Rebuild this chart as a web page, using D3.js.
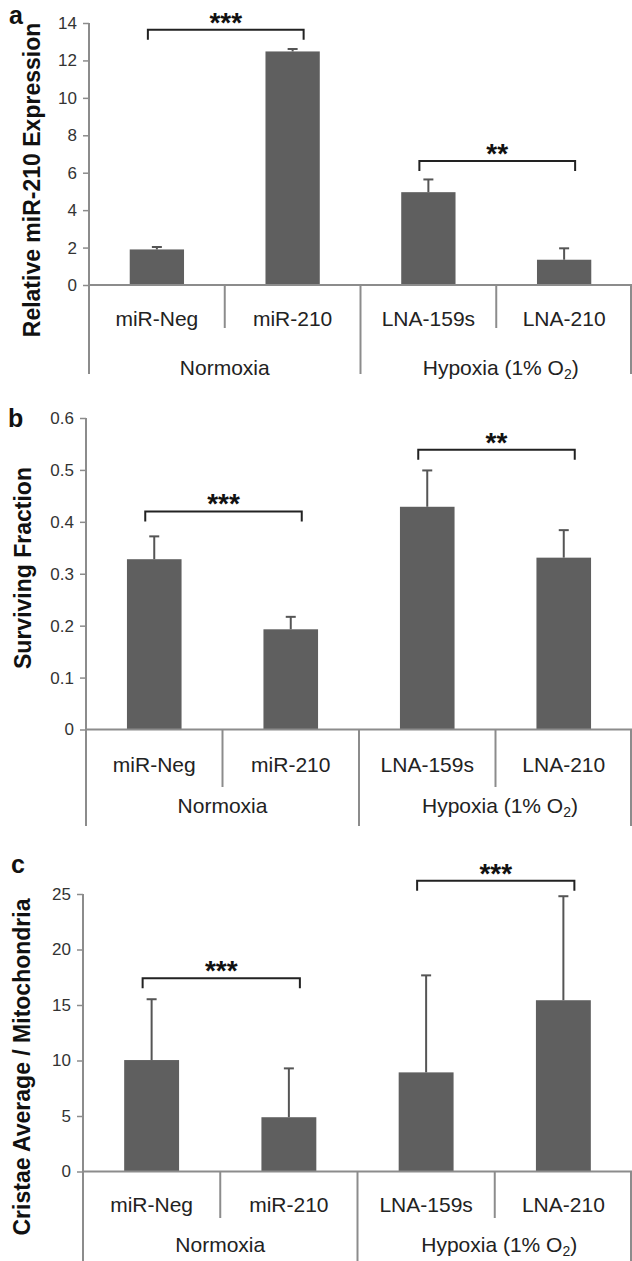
<!DOCTYPE html>
<html>
<head>
<meta charset="utf-8">
<script src="https://cdn.jsdelivr.net/npm/d3@7"></script>
<style>
  body { margin: 0; background: #fff; }
  svg { display: block; font-family: "Liberation Sans", Arial, sans-serif; }
</style>
</head>
<body>
<svg width="632" height="1261"></svg>
<script>
// shared categories
var categories = ["miR-Neg", "miR-210", "LNA-159s", "LNA-210"];
var groups = ["Normoxia", "Hypoxia (1% O"];

// panel a - relative miR-210 expression
var expressionValues = [1.9, 12.48, 4.96, 1.35];
var expressionErrors = [0.13, 0.13, 0.68, 0.61];
var expressionTicks = [0, 2, 4, 6, 8, 10, 12, 14];
var expressionSig = [[0, 1, 13.64, "***"], [2, 3, 6.63, "**"]];

// panel b - surviving fraction
var survivalValues = [0.328, 0.193, 0.429, 0.331];
var survivalErrors = [0.044, 0.024, 0.07, 0.053];
var survivalTicks = [0, 0.1, 0.2, 0.3, 0.4, 0.5, 0.6];
var survivalSig = [[0, 1, 0.42, "***"], [2, 3, 0.539, "**"]];

// panel c - cristae per mitochondria
var cristaeValues = [10.04, 4.89, 8.93, 15.43];
var cristaeErrors = [5.48, 4.4, 8.74, 9.37];
var cristaeTicks = [0, 5, 10, 15, 20, 25];
var cristaeSig = [[0, 1, 17.4, "***"], [2, 3, 26.2, "***"]];

var svg = d3.select("svg");
var barColor = "#5f5f5f",
    axisColor = "#8c8c8c";

/* one panel = bars, error bars, brackets, two-level x labels */
function drawPanel(p) {
    var g = svg.append("g");
    var right = 631;

    var x = d3.scaleBand().domain(categories).range([p.left, right + 1]);
    var y = d3.scaleLinear()
        .domain([0, d3.max(p.ticks)])
        .range([p.zero, p.top]);
    var bw = x.bandwidth() * 0.4;

    var rows = categories.map(function (c, i) {
        return {cat: c, value: p.values[i], err: p.errors[i]};
    });

    // bars
    g.selectAll(".bar")
        .data(rows)
        .enter().append("rect")
        .attr("class", "bar")
        .attr("x", function (d) { return x(d.cat) + x.bandwidth() / 2 - bw / 2; })
        .attr("y", function (d) { return y(d.value); })
        .attr("width", bw)
        .attr("height", function (d) { return y(0) - y(d.value); })
        .attr("fill", barColor);

    // error bars (upper only)
    var eb = g.selectAll(".err")
        .data(rows)
        .enter().append("g")
        .attr("class", "err")
        .attr("stroke", "#555")
        .attr("stroke-width", 2);
    eb.append("line")
        .attr("x1", function (d) { return x(d.cat) + x.bandwidth() / 2; })
        .attr("x2", function (d) { return x(d.cat) + x.bandwidth() / 2; })
        .attr("y1", function (d) { return y(d.value); })
        .attr("y2", function (d) { return y(d.value + d.err); });
    eb.append("line")
        .attr("x1", function (d) { return x(d.cat) + x.bandwidth() / 2 - 5; })
        .attr("x2", function (d) { return x(d.cat) + x.bandwidth() / 2 + 5; })
        .attr("y1", function (d) { return y(d.value + d.err); })
        .attr("y2", function (d) { return y(d.value + d.err); });

    // y axis
    var yAxis = g.append("g")
        .attr("transform", "translate(" + p.left + ",0)")
        .call(d3.axisLeft(y).tickValues(p.ticks).tickSize(6).tickSizeOuter(0).tickPadding(6)
            .tickFormat(function (d) { return String(d); }));
    yAxis.select(".domain").remove();
    yAxis.selectAll(".tick line").attr("stroke", axisColor).attr("stroke-width", 1.5);
    yAxis.selectAll(".tick text")
        .attr("fill", "#333")
        .style("font-size", "17px")
        .style("font-family", "'Liberation Sans', Arial, sans-serif");

    // axis lines and category dividers
    var lines = g.append("g").attr("stroke", axisColor).attr("stroke-width", 2);
    lines.append("line")
        .attr("x1", p.left).attr("x2", p.left)
        .attr("y1", y(d3.max(p.ticks))).attr("y2", p.groupLineBottom);
    lines.append("line")
        .attr("x1", p.left).attr("x2", right + 1)
        .attr("y1", y(0)).attr("y2", y(0));
    [categories[1], categories[3]].forEach(function (c) {
        lines.append("line")
            .attr("x1", x(c)).attr("x2", x(c))
            .attr("y1", y(0)).attr("y2", p.innerSepBottom);
    });
    [x(categories[2]), right].forEach(function (px) {
        lines.append("line")
            .attr("x1", px).attr("x2", px)
            .attr("y1", y(0)).attr("y2", p.groupLineBottom);
    });

    // category labels
    g.selectAll(".cat")
        .data(categories)
        .enter().append("text")
        .attr("class", "cat")
        .attr("x", function (d) { return x(d) + x.bandwidth() / 2; })
        .attr("y", p.catBaseline)
        .attr("text-anchor", "middle")
        .attr("fill", "#222")
        .style("font-size", "21px")
        .text(function (d) { return d; });

    // group labels
    g.append("text")
        .attr("x", (p.left + x(categories[2])) / 2)
        .attr("y", p.groupBaseline)
        .attr("text-anchor", "middle")
        .attr("fill", "#222")
        .style("font-size", "21px")
        .text(groups[0]);
    var hyp = g.append("text")
        .attr("x", (x(categories[2]) + right) / 2 + 5)
        .attr("y", p.groupBaseline)
        .attr("text-anchor", "middle")
        .attr("fill", "#222")
        .style("font-size", "21px");
    hyp.append("tspan").text(groups[1]);
    hyp.append("tspan").attr("dy", 4).style("font-size", "14px").text("2");
    hyp.append("tspan").attr("dy", -4).text(")");

    // significance brackets
    var sig = g.selectAll(".sig")
        .data(p.sig)
        .enter().append("g")
        .attr("class", "sig");
    sig.append("path")
        .attr("fill", "none")
        .attr("stroke", "#222")
        .attr("stroke-width", 2)
        .attr("d", function (d) {
            var x1 = x(categories[d[0]]) + x.bandwidth() / 2 - 9,
                x2 = x(categories[d[1]]) + x.bandwidth() / 2 + 11,
                yy = y(d[2]);
            return "M" + x1 + "," + (yy + 10) + "V" + yy + "H" + x2 + "V" + (yy + 10);
        });
    sig.append("text")
        .attr("x", function (d) {
            return (x(categories[d[0]]) + x(categories[d[1]]) + x.bandwidth()) / 2 + 1;
        })
        .attr("y", function (d) { return y(d[2]) + 2; })
        .attr("text-anchor", "middle")
        .attr("fill", "#111")
        .style("font-size", "28px")
        .style("font-weight", "bold")
        .text(function (d) { return d[3]; });

    // y title
    g.append("text")
        .attr("transform", "translate(" + p.titleX + "," + p.titleY + ") rotate(-90)")
        .attr("text-anchor", "middle")
        .attr("fill", "#111")
        .style("font-size", "23px")
        .style("font-weight", "bold")
        .text(p.title);

    // panel letter
    g.append("text")
        .attr("x", p.letterX)
        .attr("y", p.letterY)
        .attr("fill", "#111")
        .style("font-size", "25px")
        .style("font-weight", "bold")
        .text(p.letter);
}

drawPanel({
    values: expressionValues, errors: expressionErrors, ticks: expressionTicks, sig: expressionSig,
    title: "Relative miR-210 Expression", letter: "a",
    left: 89, zero: 285, top: 23,
    catBaseline: 326, innerSepBottom: 328, groupBaseline: 375, groupLineBottom: 374,
    titleX: 40, titleY: 180, letterX: 9, letterY: 24
});

drawPanel({
    values: survivalValues, errors: survivalErrors, ticks: survivalTicks, sig: survivalSig,
    title: "Surviving Fraction", letter: "b",
    left: 86, zero: 729.5, top: 418,
    catBaseline: 772, innerSepBottom: 787, groupBaseline: 813, groupLineBottom: 826,
    titleX: 31, titleY: 568, letterX: 8, letterY: 427
});

drawPanel({
    values: cristaeValues, errors: cristaeErrors, ticks: cristaeTicks, sig: cristaeSig,
    title: "Cristae Average / Mitochondria", letter: "c",
    left: 83, zero: 1171.5, top: 894,
    catBaseline: 1212, innerSepBottom: 1218, groupBaseline: 1252, groupLineBottom: 1261,
    titleX: 30, titleY: 1067, letterX: 11, letterY: 873
});
</script>
</body>
</html>
